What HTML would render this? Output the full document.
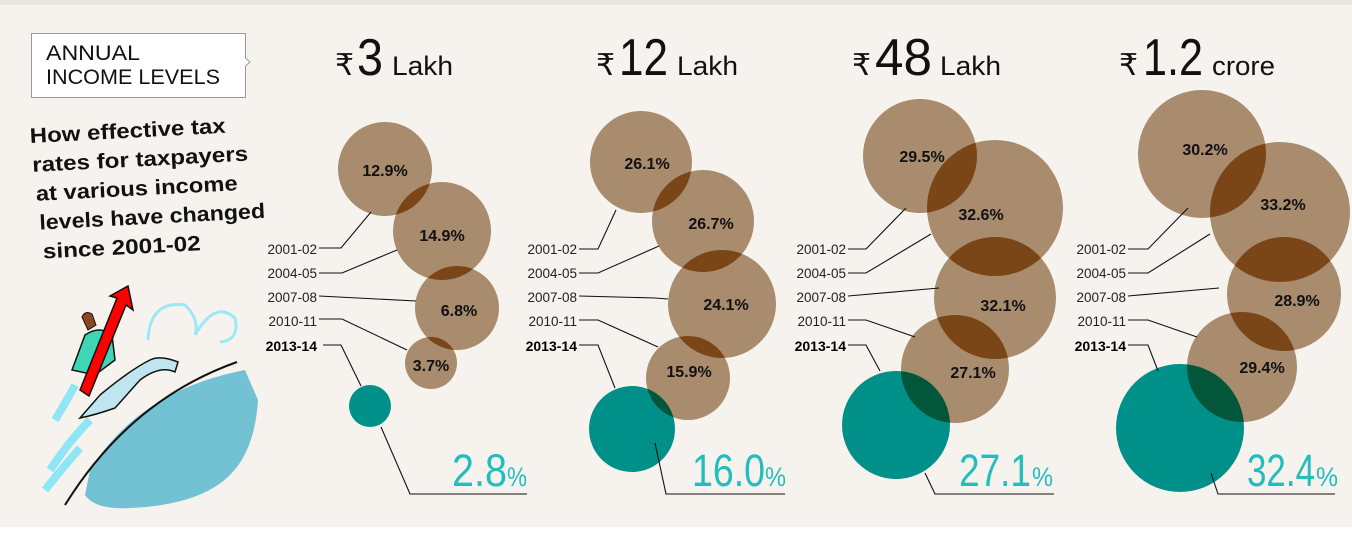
<!DOCTYPE html>
<html><head><meta charset="utf-8"><style>
html,body{margin:0;padding:0;background:#fff}
svg{display:block}
text{font-family:"Liberation Sans","DejaVu Sans",sans-serif}
.lb{font-size:13.5px;fill:#222;text-anchor:end}
.lbb{font-size:14px;font-weight:bold;fill:#000;text-anchor:end}
.pc{font-size:16px;font-weight:bold;fill:#111;text-anchor:middle}
.vl{font-size:45px;fill:#22bdbd}
.vp{font-size:27px;fill:#22bdbd}
.ttl{fill:#111}
line,polyline{stroke:#111;stroke-width:1.1;fill:none}
.b{fill:#a98b6e}
.t{fill:#00908a}
.o{fill:#7a4618}
.ot{fill:#03563a}
</style></head><body>
<svg width="1352" height="536" viewBox="0 0 1352 536" xmlns="http://www.w3.org/2000/svg">
<defs>
<clipPath id="a2"><circle cx="442" cy="231" r="49"/></clipPath>
<clipPath id="a3"><circle cx="457" cy="308" r="42"/></clipPath>
<clipPath id="a4"><circle cx="431" cy="363" r="26"/></clipPath>
<clipPath id="b2"><circle cx="703" cy="221" r="51"/></clipPath>
<clipPath id="b3"><circle cx="722" cy="304" r="54"/></clipPath>
<clipPath id="b4"><circle cx="688" cy="378" r="42"/></clipPath>
<clipPath id="c2"><circle cx="995" cy="208" r="68"/></clipPath>
<clipPath id="c3"><circle cx="995" cy="298" r="61"/></clipPath>
<clipPath id="c4"><circle cx="955" cy="369" r="54"/></clipPath>
<clipPath id="d2"><circle cx="1280" cy="212" r="70"/></clipPath>
<clipPath id="d3"><circle cx="1284" cy="294" r="57"/></clipPath>
<clipPath id="d4"><circle cx="1242" cy="367" r="55"/></clipPath>
</defs>
<rect x="0" y="0" width="1352" height="527" fill="#f6f2ee"/>
<rect x="0" y="0" width="1352" height="5" fill="#ebe4df"/>
<rect x="0" y="527" width="1352" height="9" fill="#ffffff"/>

<!-- left box -->
<path d="M31.5 33.5 H245.5 V58 L250 62 L245.5 66 V97.5 H31.5 Z" fill="#fff" stroke="#999" stroke-width="1"/>
<text x="46" y="60" font-size="21" fill="#111" textLength="94" lengthAdjust="spacingAndGlyphs">ANNUAL</text>
<text x="46" y="84" font-size="21" fill="#111" textLength="174" lengthAdjust="spacingAndGlyphs">INCOME LEVELS</text>
<g transform="rotate(-3 30 140)" font-weight="bold" font-size="21" fill="#111">
<text x="30" y="143" textLength="196" lengthAdjust="spacingAndGlyphs">How effective tax</text>
<text x="31" y="172" textLength="216" lengthAdjust="spacingAndGlyphs">rates for taxpayers</text>
<text x="33" y="201" textLength="202" lengthAdjust="spacingAndGlyphs">at various income</text>
<text x="35" y="230" textLength="226" lengthAdjust="spacingAndGlyphs">levels have changed</text>
<text x="37" y="259" textLength="158" lengthAdjust="spacingAndGlyphs">since 2001-02</text>
</g>
<!-- illustration -->
<g>
<path d="M90 470 Q140 390 245 370 L258 400 Q255 450 230 475 Q200 505 130 508 Q95 510 85 495 Z" fill="#72c2d4"/>
<path d="M55 420 Q70 395 75 385 M50 470 Q70 440 90 420 M45 490 Q65 465 80 448" stroke="#8fe6f5" stroke-width="8" fill="none"/>
<path d="M65 505 Q130 400 237 362" stroke="#111" stroke-width="2" fill="none"/>
<path d="M148 340 Q150 300 185 305 Q200 320 195 335 Q215 300 235 318 Q240 340 220 342" stroke="#9de8f7" stroke-width="3" fill="none"/>
<path d="M100 395 Q130 370 150 360 Q160 355 178 362 L175 372 Q160 365 140 380 L115 408 Q95 415 80 418 Z" fill="#bfe6f0" stroke="#111" stroke-width="1.5"/>
<path d="M72 370 L85 335 Q100 325 112 335 L115 360 L95 375 Z" fill="#3fd6b5" stroke="#111" stroke-width="1.5"/>
<path d="M82 317 Q85 310 92 314 L96 325 L88 330 Z" fill="#8b4a1e" stroke="#111" stroke-width="1"/>
<path d="M80 390 L117 298 L110 296 L128 286 L133 310 L126 305 L89 396 Z" fill="#f00" stroke="#111" stroke-width="1.5"/>
</g>

<!-- Titles -->
<g class="ttl">
<text x="335" y="75" font-size="30">₹</text><text x="357" y="75" font-size="52" textLength="26" lengthAdjust="spacingAndGlyphs">3</text><text x="392" y="75" font-size="27" textLength="61" lengthAdjust="spacingAndGlyphs">Lakh</text>
<text x="596" y="75" font-size="30">₹</text><text x="619" y="75" font-size="52" textLength="49" lengthAdjust="spacingAndGlyphs">12</text><text x="677" y="75" font-size="27" textLength="61" lengthAdjust="spacingAndGlyphs">Lakh</text>
<text x="852" y="75" font-size="30">₹</text><text x="875" y="75" font-size="52" textLength="57" lengthAdjust="spacingAndGlyphs">48</text><text x="940" y="75" font-size="27" textLength="61" lengthAdjust="spacingAndGlyphs">Lakh</text>
<text x="1119" y="75" font-size="30">₹</text><text x="1143" y="75" font-size="52" textLength="60" lengthAdjust="spacingAndGlyphs">1.2</text><text x="1212" y="75" font-size="27" textLength="63" lengthAdjust="spacingAndGlyphs">crore</text>
</g>

<!-- Panel 1 -->
<g>
<circle class="b" cx="385" cy="169" r="47"/><circle class="b" cx="442" cy="231" r="49"/>
<circle class="b" cx="457" cy="308" r="42"/><circle class="b" cx="431" cy="363" r="26"/>
<circle class="t" cx="370" cy="406" r="21"/>
<circle class="o" cx="385" cy="169" r="47" clip-path="url(#a2)"/>
<circle class="o" cx="442" cy="231" r="49" clip-path="url(#a3)"/>
<circle class="o" cx="457" cy="308" r="42" clip-path="url(#a4)"/>
</g>
<g>
<text class="lb" x="317" y="254">2001-02</text><text class="lb" x="317" y="278">2004-05</text>
<text class="lb" x="317" y="302">2007-08</text><text class="lb" x="317" y="326">2010-11</text>
<text class="lbb" x="317" y="351">2013-14</text>
<polyline points="319,248 341,248 371,212"/><polyline points="319,273 342,273 397,250"/>
<polyline points="319,296 416,301"/><polyline points="319,319 342,319 407,350"/>
<polyline points="323,345 341,345 361,386"/><polyline points="381,427 410,494 527,494"/>
<text class="pc" x="385" y="176">12.9%</text><text class="pc" x="442" y="241">14.9%</text>
<text class="pc" x="459" y="316">6.8%</text><text class="pc" x="431" y="371">3.7%</text>
<text class="vl" x="452" y="486" textLength="55" lengthAdjust="spacingAndGlyphs">2.8</text><text class="vp" x="507" y="486" textLength="20" lengthAdjust="spacingAndGlyphs">%</text>
</g>

<!-- Panel 2 -->
<g>
<circle class="b" cx="641" cy="162" r="51"/><circle class="b" cx="703" cy="221" r="51"/>
<circle class="b" cx="722" cy="304" r="54"/><circle class="b" cx="688" cy="378" r="42"/>
<circle class="t" cx="632" cy="429" r="43"/>
<circle class="o" cx="641" cy="162" r="51" clip-path="url(#b2)"/>
<circle class="o" cx="703" cy="221" r="51" clip-path="url(#b3)"/>
<circle class="o" cx="722" cy="304" r="54" clip-path="url(#b4)"/>
<circle class="ot" cx="632" cy="429" r="43" clip-path="url(#b4)"/>
</g>
<g>
<text class="lb" x="577" y="254">2001-02</text><text class="lb" x="577" y="278">2004-05</text>
<text class="lb" x="577" y="302">2007-08</text><text class="lb" x="577" y="326">2010-11</text>
<text class="lbb" x="577" y="351">2013-14</text>
<polyline points="579,249 598,249 616,210"/><polyline points="579,273 598,273 659,246"/>
<polyline points="579,296 655,298 668,299"/><polyline points="579,320 598,320 658,347"/>
<polyline points="579,345 598,345 615,388"/><polyline points="655,443 666,494 785,494"/>
<text class="pc" x="647" y="169">26.1%</text><text class="pc" x="711" y="229">26.7%</text>
<text class="pc" x="726" y="310">24.1%</text><text class="pc" x="689" y="377">15.9%</text>
<text class="vl" x="692" y="486" textLength="73" lengthAdjust="spacingAndGlyphs">16.0</text><text class="vp" x="765" y="486" textLength="21" lengthAdjust="spacingAndGlyphs">%</text>
</g>

<!-- Panel 3 -->
<g>
<circle class="b" cx="920" cy="156" r="57"/><circle class="b" cx="995" cy="208" r="68"/>
<circle class="b" cx="995" cy="298" r="61"/><circle class="b" cx="955" cy="369" r="54"/>
<circle class="t" cx="896" cy="425" r="54"/>
<circle class="o" cx="920" cy="156" r="57" clip-path="url(#c2)"/>
<circle class="o" cx="995" cy="208" r="68" clip-path="url(#c3)"/>
<circle class="o" cx="995" cy="298" r="61" clip-path="url(#c4)"/>
<circle class="ot" cx="896" cy="425" r="54" clip-path="url(#c4)"/>
</g>
<g>
<text class="lb" x="846" y="254">2001-02</text><text class="lb" x="846" y="278">2004-05</text>
<text class="lb" x="846" y="302">2007-08</text><text class="lb" x="846" y="326">2010-11</text>
<text class="lbb" x="846" y="351">2013-14</text>
<polyline points="848,249 866,249 906,208"/><polyline points="848,273 866,273 931,234"/>
<polyline points="848,296 939,288"/><polyline points="848,320 866,320 915,337"/>
<polyline points="848,345 866,345 880,371"/><polyline points="925,473 935,494 1054,494"/>
<text class="pc" x="922" y="162">29.5%</text><text class="pc" x="981" y="220">32.6%</text>
<text class="pc" x="1003" y="311">32.1%</text><text class="pc" x="973" y="378">27.1%</text>
<text class="vl" x="959" y="486" textLength="72" lengthAdjust="spacingAndGlyphs">27.1</text><text class="vp" x="1032" y="486" textLength="21" lengthAdjust="spacingAndGlyphs">%</text>
</g>

<!-- Panel 4 -->
<g>
<circle class="b" cx="1202" cy="154" r="64"/><circle class="b" cx="1280" cy="212" r="70"/>
<circle class="b" cx="1284" cy="294" r="57"/><circle class="b" cx="1242" cy="367" r="55"/>
<circle class="t" cx="1180" cy="428" r="64"/>
<circle class="o" cx="1202" cy="154" r="64" clip-path="url(#d2)"/>
<circle class="o" cx="1280" cy="212" r="70" clip-path="url(#d3)"/>
<circle class="o" cx="1284" cy="294" r="57" clip-path="url(#d4)"/>
<circle class="ot" cx="1180" cy="428" r="64" clip-path="url(#d4)"/>
</g>
<g>
<text class="lb" x="1126" y="254">2001-02</text><text class="lb" x="1126" y="278">2004-05</text>
<text class="lb" x="1126" y="302">2007-08</text><text class="lb" x="1126" y="326">2010-11</text>
<text class="lbb" x="1126" y="351">2013-14</text>
<polyline points="1128,249 1148,249 1188,208"/><polyline points="1128,273 1148,273 1210,234"/>
<polyline points="1128,296 1219,288"/><polyline points="1128,320 1148,320 1197,337"/>
<polyline points="1128,345 1148,345 1158,371"/><polyline points="1211,473 1218,494 1335,494"/>
<text class="pc" x="1205" y="155">30.2%</text><text class="pc" x="1283" y="210">33.2%</text>
<text class="pc" x="1297" y="306">28.9%</text><text class="pc" x="1262" y="373">29.4%</text>
<text class="vl" x="1247" y="486" textLength="68" lengthAdjust="spacingAndGlyphs">32.4</text><text class="vp" x="1316" y="486" textLength="22" lengthAdjust="spacingAndGlyphs">%</text>
</g>
</svg>
</body></html>
